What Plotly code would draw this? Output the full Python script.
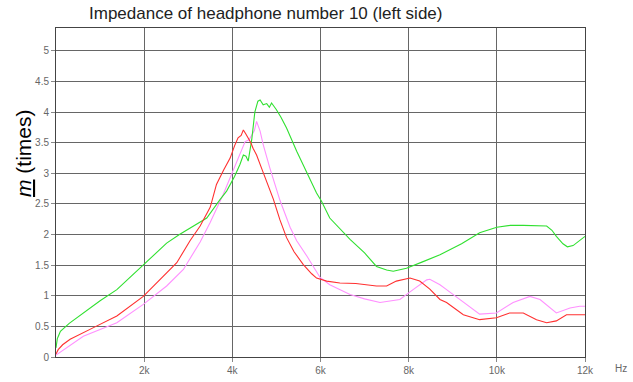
import plotly.graph_objects as go

# ---- data (frequency in kHz, impedance ratio) ----
green_x = [0, 0.03, 0.06, 0.1, 0.3, 0.62, 1.0, 1.38, 1.98, 2.51, 2.8, 3.11, 3.42, 3.72, 3.87, 4.05, 4.17, 4.25, 4.31, 4.36,
           4.44, 4.51, 4.58, 4.63, 4.7, 4.78, 4.84, 4.89, 4.95, 5.0, 5.1, 5.23, 5.46, 5.69, 5.91, 6.02, 6.21, 6.67, 7.0,
           7.27, 7.5, 7.65, 7.95, 8.3, 8.71, 9.2, 9.61, 10.0, 10.3, 10.6, 10.9, 11.13, 11.25, 11.35, 11.5, 11.6, 11.73,
           11.88, 12.0]
green_y = [0.15, 0.3, 0.35, 0.42, 0.55, 0.72, 0.92, 1.1, 1.5, 1.86, 2.0, 2.14, 2.27, 2.57, 2.71, 2.95, 3.14, 3.3, 3.28, 3.2,
           3.55, 4.0, 4.18, 4.2, 4.12, 4.14, 4.08, 4.15, 4.1, 4.04, 3.92, 3.74, 3.36, 3.0, 2.68, 2.55, 2.27, 1.92, 1.7,
           1.48, 1.42, 1.4, 1.45, 1.55, 1.67, 1.85, 2.03, 2.12, 2.15, 2.15, 2.14, 2.14, 2.07, 1.97, 1.85, 1.8, 1.82,
           1.9, 1.97]

red_x = [0, 0.05, 0.15, 0.32, 0.85, 1.38, 1.98, 2.51, 2.74, 3.04, 3.27, 3.5, 3.64, 3.8, 3.95, 4.05, 4.13, 4.2, 4.25, 4.3,
         4.36, 4.42, 4.47, 4.55, 4.66, 4.78, 4.93, 5.08, 5.23, 5.4, 5.61, 5.8, 5.91, 6.14, 6.44, 6.8, 7.27, 7.5, 7.72,
         8.03, 8.25, 8.48, 8.71, 8.86, 9.24, 9.61, 9.99, 10.29, 10.6, 10.9, 11.13, 11.35, 11.58, 11.88, 12.0]
red_y = [0.05, 0.12, 0.2, 0.29, 0.48, 0.67, 0.99, 1.38, 1.54, 1.9, 2.14, 2.45, 2.82, 3.05, 3.25, 3.45, 3.58, 3.62, 3.71,
         3.65, 3.58, 3.5, 3.41, 3.3, 3.09, 2.87, 2.58, 2.24, 1.95, 1.72, 1.51, 1.36, 1.29, 1.24, 1.21, 1.2, 1.16, 1.16,
         1.24, 1.29, 1.24, 1.11, 0.94, 0.89, 0.69, 0.61, 0.64, 0.72, 0.72, 0.61, 0.56, 0.59, 0.69, 0.69, 0.69]

pink_x = [0, 0.1, 0.62, 1.38, 1.98, 2.51, 2.89, 3.27, 3.5, 3.79, 4.1, 4.29, 4.38, 4.44, 4.5, 4.55, 4.6, 4.63, 4.7, 4.85,
          5.08, 5.31, 5.46, 5.69, 5.99, 6.21, 6.67, 7.0, 7.35, 7.8, 8.1, 8.41, 8.48, 8.71, 8.86, 9.24, 9.61, 9.99, 10.37,
          10.75, 10.98, 11.35, 11.66, 11.88, 12.0]
pink_y = [0.03, 0.08, 0.34, 0.56, 0.86, 1.16, 1.43, 1.88, 2.2, 2.65, 3.2, 3.52, 3.55, 3.63, 3.7, 3.85, 3.75, 3.69, 3.47,
          3.09, 2.56, 2.12, 1.9, 1.65, 1.3, 1.18, 1.02, 0.95, 0.89, 0.94, 1.1, 1.26, 1.27, 1.18, 1.1, 0.89, 0.7, 0.72,
          0.89, 0.99, 0.94, 0.72, 0.8, 0.83, 0.83]

x_tick_vals = [2, 4, 6, 8, 10, 12]
x_tick_text = ["2k", "4k", "6k", "8k", "10k", "12k"]
y_tick_vals = [0, 0.5, 1, 1.5, 2, 2.5, 3, 3.5, 4, 4.5, 5]
y_tick_text = ["0", "0.5", "1", "1.5", "2", "2.5", "3", "3.5", "4", "4.5", "5"]

fig = go.Figure()
fig.add_trace(go.Scatter(x=pink_x, y=pink_y, mode="lines", line=dict(color="#ff90ff", width=1.1)))
fig.add_trace(go.Scatter(x=green_x, y=green_y, mode="lines", line=dict(color="#30e030", width=1.1)))
fig.add_trace(go.Scatter(x=red_x, y=red_y, mode="lines", line=dict(color="#ff3030", width=1.1)))

W, H = 633, 382
L, R, T, B = 56, 48, 28, 25
pw, ph = W - L - R, H - T - B
plot_bottom = H - B

axis_common = dict(showgrid=True, gridcolor="#666666", gridwidth=1.2, showline=True, linecolor="#444444",
                   linewidth=1, mirror=True, ticks="outside", ticklen=4, tickcolor="#888888",
                   tickfont=dict(family="Liberation Sans, Arial, sans-serif", size=10, color="#666666"),
                   zeroline=False, automargin=False)
fig.update_xaxes(range=[0, 12], tickvals=x_tick_vals, ticktext=x_tick_text, **axis_common)
fig.update_yaxes(range=[0, 5.375], tickvals=y_tick_vals, ticktext=y_tick_text, **axis_common)

fig.add_annotation(text="Impedance of headphone number 10 (left side)", xref="paper", yref="paper",
                   x=(265 - L) / pw, y=1 + (T - 14) / ph, xanchor="center", yanchor="middle", showarrow=False,
                   font=dict(family="Liberation Sans, Arial, sans-serif", size=17, color="#222222"))
fig.add_annotation(text="Hz", xref="paper", yref="paper", x=(621 - L) / pw, y=-(369 - plot_bottom) / ph,
                   xanchor="center", yanchor="middle", showarrow=False,
                   font=dict(family="Liberation Sans, Arial, sans-serif", size=10, color="#666666"))
fig.add_annotation(text="<u><i>m</i></u> (times)", xref="paper", yref="paper", x=(23 - L) / pw,
                   y=(plot_bottom - 153) / ph, xanchor="center", yanchor="middle", textangle=-90, showarrow=False,
                   font=dict(family="Liberation Sans, Arial, sans-serif", size=21, color="#000000"))

fig.update_layout(width=W, height=H, margin=dict(l=L, r=R, t=T, b=B, pad=0, autoexpand=False),
                  showlegend=False, plot_bgcolor="white", paper_bgcolor="white")
fig.write_html("out.html", config={"displayModeBar": False},
               post_script="document.body.style.margin='0';document.body.style.overflow='hidden';")
